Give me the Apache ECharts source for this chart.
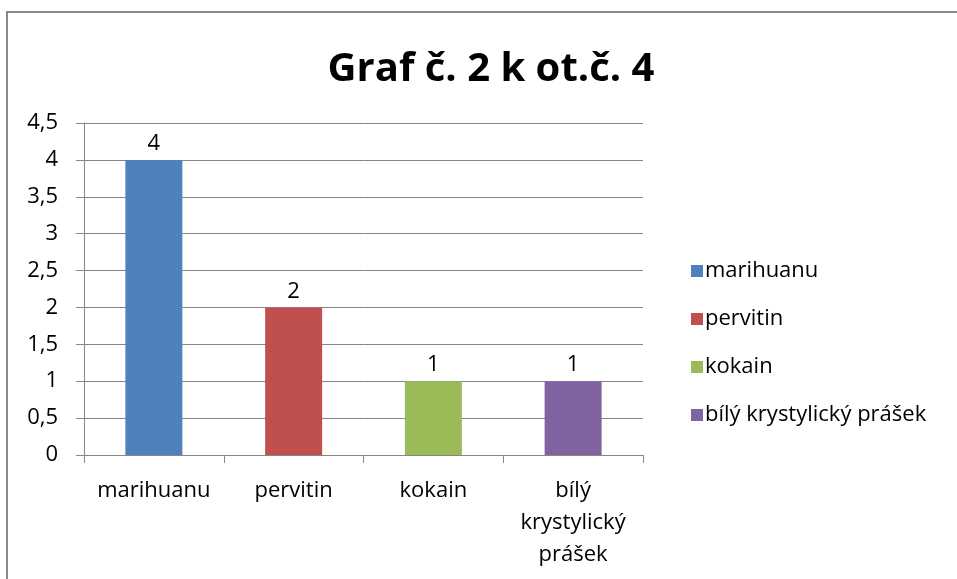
<!DOCTYPE html>
<html>
<head>
<meta charset="utf-8">
<script src="https://cdn.jsdelivr.net/npm/echarts@6/dist/echarts.min.js"></script>
<style>html,body{margin:0;padding:0;background:#fff;}#c{width:957px;height:579px;}</style>
</head>
<body>
<div id="c"></div>
<script>
const titleText = 'Graf č. 2 k ot.č. 4';
const categories = ['marihuanu', 'pervitin', 'kokain', 'bílý krystylický prášek'];
const values = [4, 2, 1, 1];
const colors = ['#4F81BD', '#C0504D', '#9BBB59', '#8064A2'];
const yTicks = { min: 0, max: 4.5, interval: 0.5 };

const FONT = 'Open Sans';
const FS = 22;
const chart = echarts.init(document.getElementById('c'));
const series = categories.map((name, i) => ({
  name: name,
  type: 'bar',
  stack: 'all',
  barWidth: 57,
  itemStyle: { color: colors[i] },
  label: { show: true, position: 'top', distance: 5, color: '#000', fontFamily: FONT, fontSize: FS },
  data: values.map((v, j) => (j === i ? v : '-'))
}));
chart.setOption({
  animation: false,
  title: {
    text: titleText, left: 486, top: 45, textAlign: 'center',
    textStyle: { fontFamily: FONT, fontWeight: 'bold', fontSize: 40, color: '#000' }
  },
  graphic: [{
    type: 'rect', shape: { x: 7, y: 12, width: 1000, height: 1000 },
    style: { fill: 'none', stroke: '#898989', lineWidth: 2 }, silent: true
  }],
  legend: {
    orient: 'vertical', left: 686, top: 255, itemWidth: 12, itemHeight: 12, itemGap: 26,
    icon: 'rect',
    textStyle: { fontFamily: FONT, fontSize: FS, color: '#000', padding: [0, 0, 0, -3] },
    data: categories
  },
  grid: { left: 84, right: 314, top: 123, bottom: 124 },
  xAxis: {
    type: 'category', data: categories,
    axisLine: { lineStyle: { color: '#868686', width: 1 } },
    axisTick: { show: true, interval: 0, alignWithLabel: false, length: 8, lineStyle: { color: '#868686' } },
    axisLabel: {
      interval: 0, hideOverlap: false,
      color: '#000', fontFamily: FONT, fontSize: FS, margin: 20, lineHeight: 32,
      formatter: v => v.split(' ').join('\n')
    }
  },
  yAxis: {
    type: 'value', min: yTicks.min, max: yTicks.max, interval: yTicks.interval,
    axisLine: { show: true, lineStyle: { color: '#868686', width: 1 } },
    axisTick: { show: true, length: 8, lineStyle: { color: '#868686' } },
    splitLine: { lineStyle: { color: '#868686', width: 1 } },
    axisLabel: {
      color: '#000', fontFamily: FONT, fontSize: FS, margin: 26,
      formatter: v => String(v).replace('.', ',')
    }
  },
  series: series
});
</script>
</body>
</html>
